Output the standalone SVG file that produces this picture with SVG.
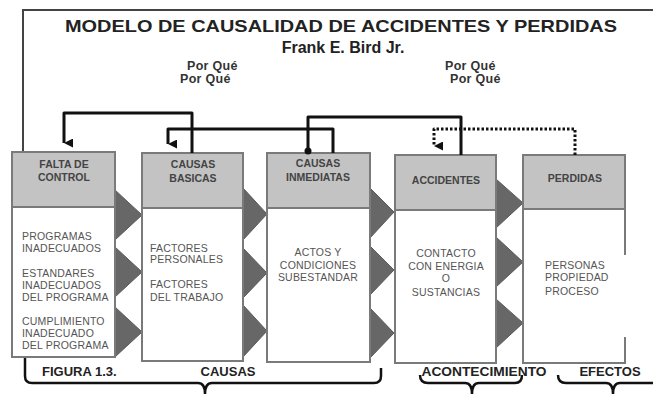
<svg xmlns="http://www.w3.org/2000/svg" width="653" height="394" viewBox="0 0 653 394">
<defs>
<marker id="ah" viewBox="0 0 10 10" refX="5" refY="10" markerWidth="9" markerHeight="9" markerUnits="userSpaceOnUse" orient="auto-start-reverse">
<path d="M0,0 L10,0 L5,10 Z" fill="#111"/>
</marker>
<style>
.hdr{fill:#c3c3c3;stroke:#7a7a7a;stroke-width:2}
.body{fill:#fff;stroke:#7a7a7a;stroke-width:2}
.tri{fill:#676767;stroke:#5a5a5a;stroke-width:1}
.ht{font-family:"Liberation Sans",Arial,sans-serif;font-size:10.5px;font-weight:bold;fill:#444;text-anchor:middle}
.bt{font-family:"Liberation Sans",Arial,sans-serif;font-size:10.5px;fill:#555;letter-spacing:0.2px}
.btc{font-family:"Liberation Sans",Arial,sans-serif;font-size:10.5px;fill:#555;text-anchor:middle;letter-spacing:0.2px}
.lab{font-family:"Liberation Sans",Arial,sans-serif;font-size:13px;font-weight:bold;fill:#222}
.pq{font-family:"Liberation Sans",Arial,sans-serif;font-size:12.5px;font-weight:bold;fill:#333;letter-spacing:0.3px}
.con{fill:none;stroke:#111;stroke-width:3;stroke-linejoin:round}
.brace{fill:none;stroke:#111;stroke-width:2.5}
</style>
</defs>
<rect width="653" height="394" fill="#fff"/>
<!-- frame -->
<path d="M23,152 V10 H653" fill="none" stroke="#444" stroke-width="2"/>
<text x="341" y="32" text-anchor="middle" font-family="Liberation Sans,Arial,sans-serif" font-size="17" font-weight="bold" fill="#222" textLength="552" lengthAdjust="spacingAndGlyphs">MODELO DE CAUSALIDAD DE ACCIDENTES Y PERDIDAS</text>
<text x="343" y="53" text-anchor="middle" font-family="Liberation Sans,Arial,sans-serif" font-size="16" font-weight="bold" fill="#222">Frank E. Bird Jr.</text>
<text class="pq" x="187" y="70">Por Qué</text>
<text class="pq" x="180" y="83">Por Qué</text>
<text class="pq" x="445" y="70">Por Qué</text>
<text class="pq" x="450" y="83">Por Qué</text>

<!-- triangles -->
<g id="arrows-tri">
<polygon class="tri" points="115,190 142,215 115,240"/>
<polygon class="tri" points="115,247 142,272 115,297"/>
<polygon class="tri" points="115,307 142,332 115,357"/>
<polygon class="tri" points="243,188 267,214 243,240"/>
<polygon class="tri" points="243,248 267,273 243,298"/>
<polygon class="tri" points="243,305 267,331 243,357"/>
<polygon class="tri" points="370,188 394,212 370,238"/>
<polygon class="tri" points="370,246 394,270 370,295"/>
<polygon class="tri" points="370,308 394,333 370,358"/>
<polygon class="tri" points="496,179 523,203 496,228"/>
<polygon class="tri" points="496,237 523,262 496,287"/>
<polygon class="tri" points="496,299 523,323 496,348"/>
</g>

<g id="falta">
<rect class="body" x="12" y="207" width="103" height="150"/>
<rect class="hdr" x="12" y="152" width="103" height="55"/>
<text class="ht" x="64" y="168">FALTA DE</text>
<text class="ht" x="64" y="181">CONTROL</text>
<text class="bt" x="22" y="240">PROGRAMAS</text>
<text class="bt" x="22" y="252">INADECUADOS</text>
<text class="bt" x="22" y="277">ESTANDARES</text>
<text class="bt" x="22" y="289">INADECUADOS</text>
<text class="bt" x="22" y="301">DEL PROGRAMA</text>
<text class="bt" x="22" y="325">CUMPLIMIENTO</text>
<text class="bt" x="22" y="337">INADECUADO</text>
<text class="bt" x="22" y="349">DEL PROGRAMA</text>
</g>

<g id="basicas">
<rect class="body" x="142" y="208" width="101" height="153"/>
<rect class="hdr" x="142" y="153" width="101" height="55"/>
<text class="ht" x="193" y="168">CAUSAS</text>
<text class="ht" x="193" y="182">BASICAS</text>
<text class="bt" x="150" y="252">FACTORES</text>
<text class="bt" x="150" y="263">PERSONALES</text>
<text class="bt" x="150" y="288">FACTORES</text>
<text class="bt" x="150" y="301">DEL TRABAJO</text>
</g>

<g id="inmediatas">
<rect class="body" x="267" y="208" width="103" height="154"/>
<rect class="hdr" x="267" y="153" width="103" height="55"/>
<text class="ht" x="318" y="167">CAUSAS</text>
<text class="ht" x="318" y="181">INMEDIATAS</text>
<text class="btc" x="318" y="256">ACTOS Y</text>
<text class="btc" x="318" y="269">CONDICIONES</text>
<text class="btc" x="318" y="281">SUBESTANDAR</text>
</g>

<g id="accidentes">
<rect class="body" x="395" y="210" width="101" height="153"/>
<rect class="hdr" x="395" y="155" width="101" height="55"/>
<text class="ht" x="446" y="184">ACCIDENTES</text>
<text class="btc" x="446" y="257">CONTACTO</text>
<text class="btc" x="446" y="270">CON ENERGIA</text>
<text class="btc" x="446" y="282">O</text>
<text class="btc" x="446" y="296">SUSTANCIAS</text>
</g>

<g id="perdidas">
<path d="M625,255 V209 M523,209 V363 H625 V337" fill="none" stroke="#7a7a7a" stroke-width="2"/>
<rect class="hdr" x="523" y="155" width="102" height="54"/>
<text class="ht" x="575" y="182">PERDIDAS</text>
<text class="bt" x="545" y="269">PERSONAS</text>
<text class="bt" x="545" y="281">PROPIEDAD</text>
<text class="bt" x="545" y="295">PROCESO</text>
</g>

<g id="connectors">
<path class="con" d="M192,153 V113 H64 V143" marker-end="url(#ah)"/>
<path class="con" d="M333,153 V129 H168 V144" marker-end="url(#ah)"/>
<path class="con" d="M461,155 V117 H308 V149"/>
<circle cx="308" cy="151" r="3.5" fill="#111"/>
<path class="con" d="M575,155 V129 H434 V146" stroke-dasharray="2.5 2" marker-end="url(#ah)"/>
</g>

<g id="labels">
<text class="lab" x="42" y="376">FIGURA 1.3.</text>
<text class="lab" x="228" y="376" text-anchor="middle">CAUSAS</text>
<text class="lab" x="484" y="376" text-anchor="middle" textLength="125" lengthAdjust="spacingAndGlyphs">ACONTECIMIENTO</text>
<text class="lab" x="610" y="376" text-anchor="middle">EFECTOS</text>
<path class="brace" d="M25,358 V376 Q25,383 32,383 H198 Q205,383 205,394 Q205,383 212,383 H374 Q381,383 381,376 V368"/>
<path class="brace" d="M420,375 Q420,383 428,383 H465 Q472,383 472,394 Q472,383 479,383 H515 Q522,383 522,375"/>
<path class="brace" d="M558,375 Q558,383 566,383 H606 Q613,383 613,394 Q613,383 620,383 H653"/>
</g>
</svg>
